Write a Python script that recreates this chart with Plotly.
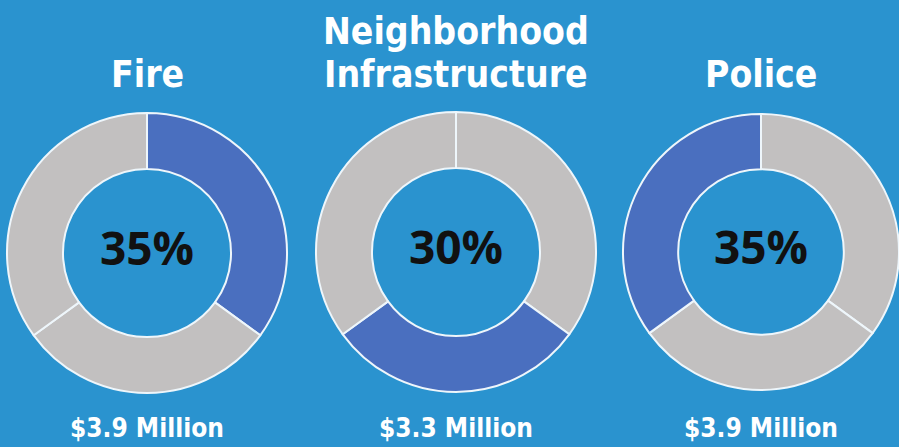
import plotly.graph_objects as go

# shares of the budget, one donut per department
departments = ["Fire", "Neighborhood Infrastructure", "Police"]
title_lines = [["Fire"], ["Neighborhood", "Infrastructure"], ["Police"]]
shares = [35, 30, 35]
amounts = ["$3.9 Million", "$3.3 Million", "$3.9 Million"]

bg_color = "#2a93cf"
highlight_color = "#4a6fbf"
rest_color = "#c2c0c0"

W, H = 899, 447
# donut boxes in pixels: (left, right, top, bottom)
boxes = [(7, 287, 113, 393), (316, 596, 112, 392), (623, 899, 114, 390)]

title_font = dict(family="DejaVu Sans Condensed, Liberation Sans", size=37,
                  color="white", weight="bold")
pct_font = dict(family="Open Sans", size=46, color="#111111", weight="bold")
amount_font = dict(family="DejaVu Sans Condensed, Liberation Sans", size=26,
                   color="white", weight="bold")

fig = go.Figure()
annotations = []

for i, dept in enumerate(departments):
    l, r, t, b = boxes[i]
    colors = [highlight_color if j == i else rest_color for j in range(len(shares))]
    fig.add_trace(go.Pie(
        labels=departments,
        values=shares,
        hole=0.6,
        sort=False,
        direction="clockwise",
        rotation=0,
        textinfo="none",
        hoverinfo="label+percent",
        marker=dict(colors=colors, line=dict(color="#eef6fb", width=2)),
        domain=dict(x=[l / W, r / W], y=[1 - b / H, 1 - t / H]),
        showlegend=False,
    ))
    cx = (l + r) / 2 / W
    cy = 1 - ((t + b) / 2 - 6) / H

    annotations.append(dict(text=f"{shares[i]}%", x=cx, y=cy, xref="paper", yref="paper",
                            showarrow=False, font=pct_font, xanchor="center", yanchor="middle"))

    lines = title_lines[i]
    for k, line in enumerate(lines):
        ypx = 74 - 43 * (len(lines) - 1 - k)
        annotations.append(dict(text=line, x=cx, y=1 - ypx / H, xref="paper", yref="paper",
                                showarrow=False, font=title_font,
                                xanchor="center", yanchor="middle"))

    annotations.append(dict(text=amounts[i], x=cx, y=1 - 428 / H, xref="paper", yref="paper",
                            showarrow=False, font=amount_font,
                            xanchor="center", yanchor="middle"))

fig.update_layout(
    width=W,
    height=H,
    margin=dict(l=0, r=0, t=0, b=0),
    paper_bgcolor=bg_color,
    plot_bgcolor=bg_color,
    annotations=annotations,
)

fig.write_html("out.html", config={"displayModeBar": False},
               post_script="document.body.style.margin='0';")
